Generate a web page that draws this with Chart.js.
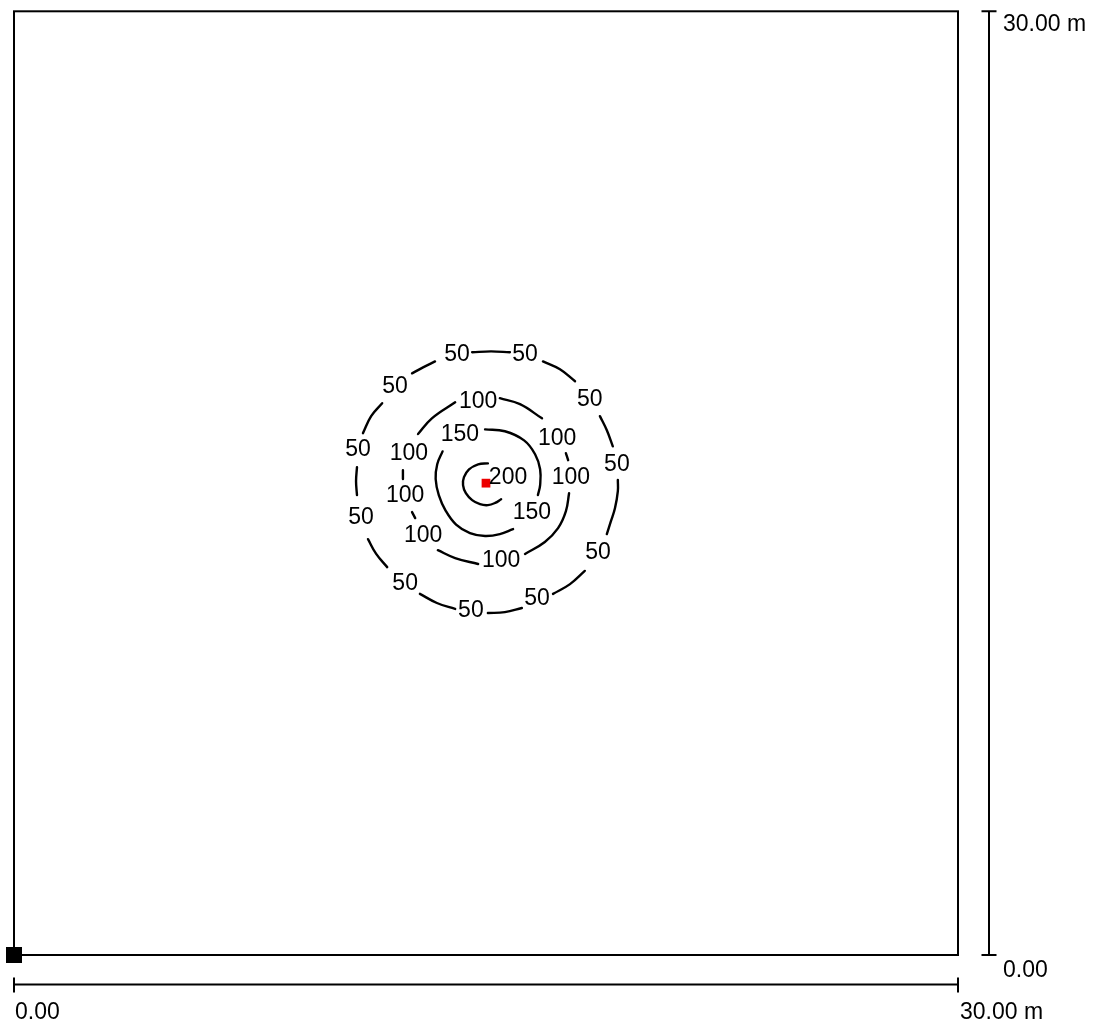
<!DOCTYPE html>
<html>
<head>
<meta charset="utf-8">
<script src="https://cdn.jsdelivr.net/npm/chart.js@4"></script>
<style>
  html, body { margin: 0; padding: 0; background: #fff; }
  #wrap { width: 1094px; height: 1026px; }
</style>
</head>
<body>
<div id="wrap"><canvas id="c" width="1094" height="1026"></canvas></div>
<script>
// Site extent in metres and dimension-line labels
const siteMin = 0;
const siteMax = 30;
const tickValues = [0, 30];
const tickLabels = ['0.00', '30.00 m'];

// Contour levels; each contour is a list of visible line pieces [x, y] (m)
const levels = [50, 100, 150, 200];

const contour50 = [
  [[14.56, 19.16], [15.16, 19.19], [15.76, 19.16]],
  [[16.81, 18.87], [17.35, 18.62], [17.83, 18.24]],
  [[18.62, 17.13], [18.84, 16.68], [19.03, 16.17]],
  [[19.19, 15.10], [19.19, 14.75], [19.10, 14.21], [18.97, 13.79], [18.84, 13.38]],
  [[18.14, 12.21], [17.67, 11.79], [17.13, 11.48]],
  [[16.14, 11.03], [15.60, 10.90], [15.06, 10.87]],
  [[14.02, 11.00], [13.44, 11.19], [12.90, 11.48]],
  [[11.86, 12.33], [11.51, 12.75], [11.25, 13.22]],
  [[10.90, 14.62], [10.87, 15.06], [10.90, 15.51]],
  [[11.09, 16.59], [11.35, 17.13], [11.70, 17.54]],
  [[12.65, 18.49], [13.00, 18.68], [13.38, 18.87]]
];
const labels50 = [
  [14.08, 19.09], [16.24, 19.09], [12.11, 18.08], [18.30, 17.66],
  [10.93, 16.08], [19.16, 15.60], [11.03, 13.89], [18.56, 12.78],
  [12.43, 11.80], [16.62, 11.32], [14.52, 10.94]
];

const contour100 = [
  [[15.44, 17.70], [16.08, 17.51], [16.78, 17.06]],
  [[17.54, 15.95], [17.61, 15.73]],
  [[17.64, 14.68], [17.54, 14.11], [17.29, 13.57], [16.87, 13.13], [16.24, 12.75]],
  [[14.75, 12.43], [14.02, 12.62], [13.47, 12.87]],
  [[12.75, 13.89], [12.65, 14.08]],
  [[12.36, 15.13], [12.36, 15.41]],
  [[12.84, 16.56], [13.28, 17.06], [14.02, 17.57]]
];
const labels100 = [
  [14.75, 17.60], [17.26, 16.43], [17.70, 15.16], [15.48, 12.53],
  [13.00, 13.32], [12.43, 14.59], [12.55, 15.95]
];

const contour150 = [
  [[14.97, 16.71], [15.60, 16.65], [16.21, 16.36], [16.56, 15.92], [16.72, 15.44], [16.72, 14.94], [16.65, 14.62]],
  [[15.86, 13.54], [15.44, 13.38], [14.97, 13.32], [14.49, 13.41], [14.05, 13.68], [13.72, 14.12],
   [13.50, 14.62], [13.40, 15.13], [13.45, 15.60], [13.62, 16.01]]
];
const labels150 = [[14.17, 16.55], [16.46, 14.05]];

const contour200 = [
  [[15.06, 15.63], [14.75, 15.60], [14.46, 15.44], [14.30, 15.19], [14.27, 14.94], [14.36, 14.68],
   [14.56, 14.46], [14.81, 14.33], [15.06, 14.30], [15.29, 14.37], [15.48, 14.49]]
];
const labels200 = [[15.70, 15.19]];

// Source position and site origin marker
const source = [[15.0, 15.0]];
const origin = [[0, 0]];

const contours = [contour50, contour100, contour150, contour200];
const contourLabels = [labels50, labels100, labels150, labels200];

// Join line pieces into one dataset, breaking the line between pieces
function piecesToData(pieces) {
  const out = [];
  pieces.forEach((piece, i) => {
    if (i > 0) out.push({ x: null, y: null });
    piece.forEach(p => out.push({ x: p[0], y: p[1] }));
  });
  return out;
}
const toPoints = arr => arr.map(p => ({ x: p[0], y: p[1] }));

const FONT = '23px "Liberation Sans", Arial, sans-serif';

const datasets = contours.map((pieces, i) => ({
  label: String(levels[i]),
  data: piecesToData(pieces),
  showLine: true,
  borderColor: '#000',
  borderWidth: 2.4,
  borderCapStyle: 'round',
  pointRadius: 0,
  tension: 0.4,
  spanGaps: false,
  clip: false
}));
datasets.push({
  label: 'source',
  data: toPoints(source),
  pointStyle: 'rect',
  pointRadius: 6.2,
  backgroundColor: 'rgb(236,0,0)',
  borderWidth: 0,
  clip: false
});
datasets.push({
  label: 'origin',
  data: toPoints(origin),
  pointStyle: 'rect',
  pointRadius: 11.3,
  backgroundColor: '#000',
  borderWidth: 0,
  clip: false
});

// Site boundary, drawn before the contours
const siteFrame = {
  id: 'siteFrame',
  beforeDatasetsDraw(chart) {
    const { ctx, chartArea: a } = chart;
    ctx.save();
    ctx.strokeStyle = '#000';
    ctx.lineWidth = 2;
    ctx.strokeRect(a.left, a.top, a.right - a.left, a.bottom - a.top);
    ctx.restore();
  }
};

// Contour value labels
const contourText = {
  id: 'contourText',
  afterDatasetsDraw(chart) {
    const { ctx, scales: { x, y } } = chart;
    ctx.save();
    ctx.font = FONT;
    ctx.fillStyle = '#000';
    ctx.textAlign = 'center';
    ctx.textBaseline = 'middle';
    contourLabels.forEach((pts, i) => {
      pts.forEach(p => ctx.fillText(String(levels[i]), x.getPixelForValue(p[0]), y.getPixelForValue(p[1])));
    });
    ctx.restore();
  }
};

// Dimension lines along the right and bottom sides
const dimensions = {
  id: 'dimensions',
  afterDraw(chart) {
    const { ctx, scales: { x, y } } = chart;
    const x0 = x.getPixelForValue(tickValues[0]);
    const x1 = x.getPixelForValue(tickValues[1]);
    const y0 = y.getPixelForValue(tickValues[0]);
    const y1 = y.getPixelForValue(tickValues[1]);
    const dimX = x1 + 31;
    const dimY = y0 + 29.5;
    ctx.save();
    ctx.strokeStyle = '#000';
    ctx.lineWidth = 2;
    ctx.beginPath();
    // right: vertical line with end ticks
    ctx.moveTo(dimX, y1); ctx.lineTo(dimX, y0);
    ctx.moveTo(dimX - 7.5, y1); ctx.lineTo(dimX + 7.5, y1);
    ctx.moveTo(dimX - 7.5, y0); ctx.lineTo(dimX + 7.5, y0);
    // bottom: horizontal line with end ticks
    ctx.moveTo(x0, dimY); ctx.lineTo(x1, dimY);
    ctx.moveTo(x0, dimY - 7); ctx.lineTo(x0, dimY + 8);
    ctx.moveTo(x1, dimY - 7); ctx.lineTo(x1, dimY + 8);
    ctx.stroke();

    ctx.font = FONT;
    ctx.fillStyle = '#000';
    ctx.textAlign = 'left';
    ctx.textBaseline = 'alphabetic';
    ctx.fillText(tickLabels[1], dimX + 14, y1 + 20);
    ctx.fillText(tickLabels[0], dimX + 14, y0 + 22);
    ctx.fillText(tickLabels[0], x0 + 1, y0 + 64);
    ctx.fillText(tickLabels[1], x1 + 2, y0 + 64);
    ctx.restore();
  }
};

new Chart(document.getElementById('c'), {
  type: 'scatter',
  data: { datasets },
  options: {
    responsive: false,
    devicePixelRatio: 1,
    animation: false,
    events: [],
    layout: { padding: { left: 14, top: 9, right: 136, bottom: 71 } },
    scales: {
      x: { type: 'linear', min: siteMin, max: siteMax, display: false },
      y: { type: 'linear', min: siteMin, max: siteMax, display: false }
    },
    plugins: {
      legend: { display: false },
      tooltip: { enabled: false },
      title: { display: false }
    }
  },
  plugins: [siteFrame, contourText, dimensions]
});
</script>
</body>
</html>
